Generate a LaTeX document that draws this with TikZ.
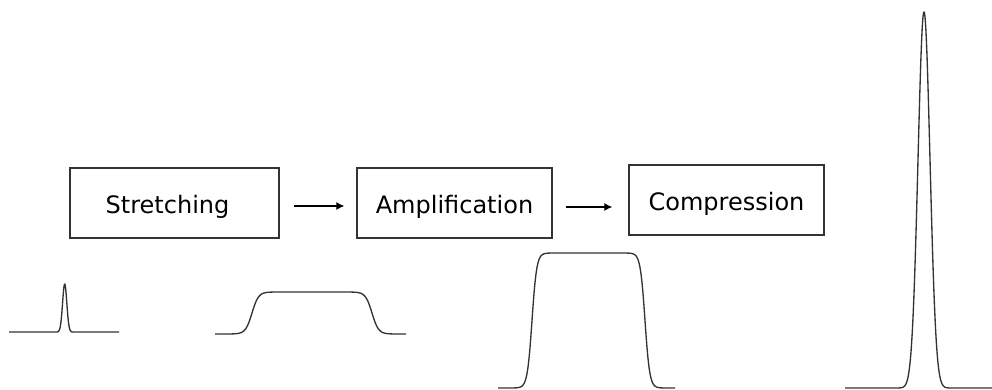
\documentclass[tikz,border=0pt]{standalone}
\usepackage{fontspec}
\setmainfont{DejaVu Sans}
\usepackage{xcolor}
\usepackage{tikz}
\usetikzlibrary{arrows.meta}

\begin{document}
\begin{tikzpicture}[x=0.75pt,y=-0.75pt,
  declare function={edge(\u)=tanh(max(-6,min(6,\u)));},
  stage/.style={draw=black!80, line width=1.1pt, minimum height=52.5pt,
    text height=15pt, text depth=0pt, font=\fontsize{18pt}{21pt}\selectfont},
  flow/.style={line width=0.8pt, -{Latex[length=6pt,width=6pt]}},
  pulse/.style={black!80, line width=1pt, line join=round}]
\useasboundingbox (0,0) rectangle (992,389);

\node[stage, minimum width=156.75pt] (stretch) at (174.5,203) {Stretching\hspace*{10.5pt}};
\node[stage, minimum width=146.25pt] (amp) at (454.5,203) {Amplification};
\node[stage, minimum width=146.25pt] (comp) at (726.5,200) {Compression};

\draw[flow] ([shift={(14,3)}]stretch.east) -- ([shift={(-12,3)}]amp.west);
\draw[flow] ([shift={(13,4)}]amp.east) -- ([shift={(-16,7)}]comp.west);

% input pulse
\draw[pulse] plot[domain=9:119, samples=441]
  (\x, {332-48*exp(-min(30,((\x-64.7)/3)*((\x-64.7)/3)))});
% stretched pulse
\draw[pulse] plot[domain=215:406, samples=192]
  (\x, {334-21*(edge((\x-252)/6.5)-edge((\x-372)/6.5))});
% amplified pulse
\draw[pulse] plot[domain=498:675, samples=178]
  (\x, {388-67.5*(edge((\x-532)/4.7)-edge((\x-645)/4.7))});
% compressed pulse
\draw[pulse] plot[domain=845:992, samples=589]
  (\x, {388-376*exp(-min(30,((\x-924)/8.5)*((\x-924)/8.5)))});
\end{tikzpicture}
\end{document}
